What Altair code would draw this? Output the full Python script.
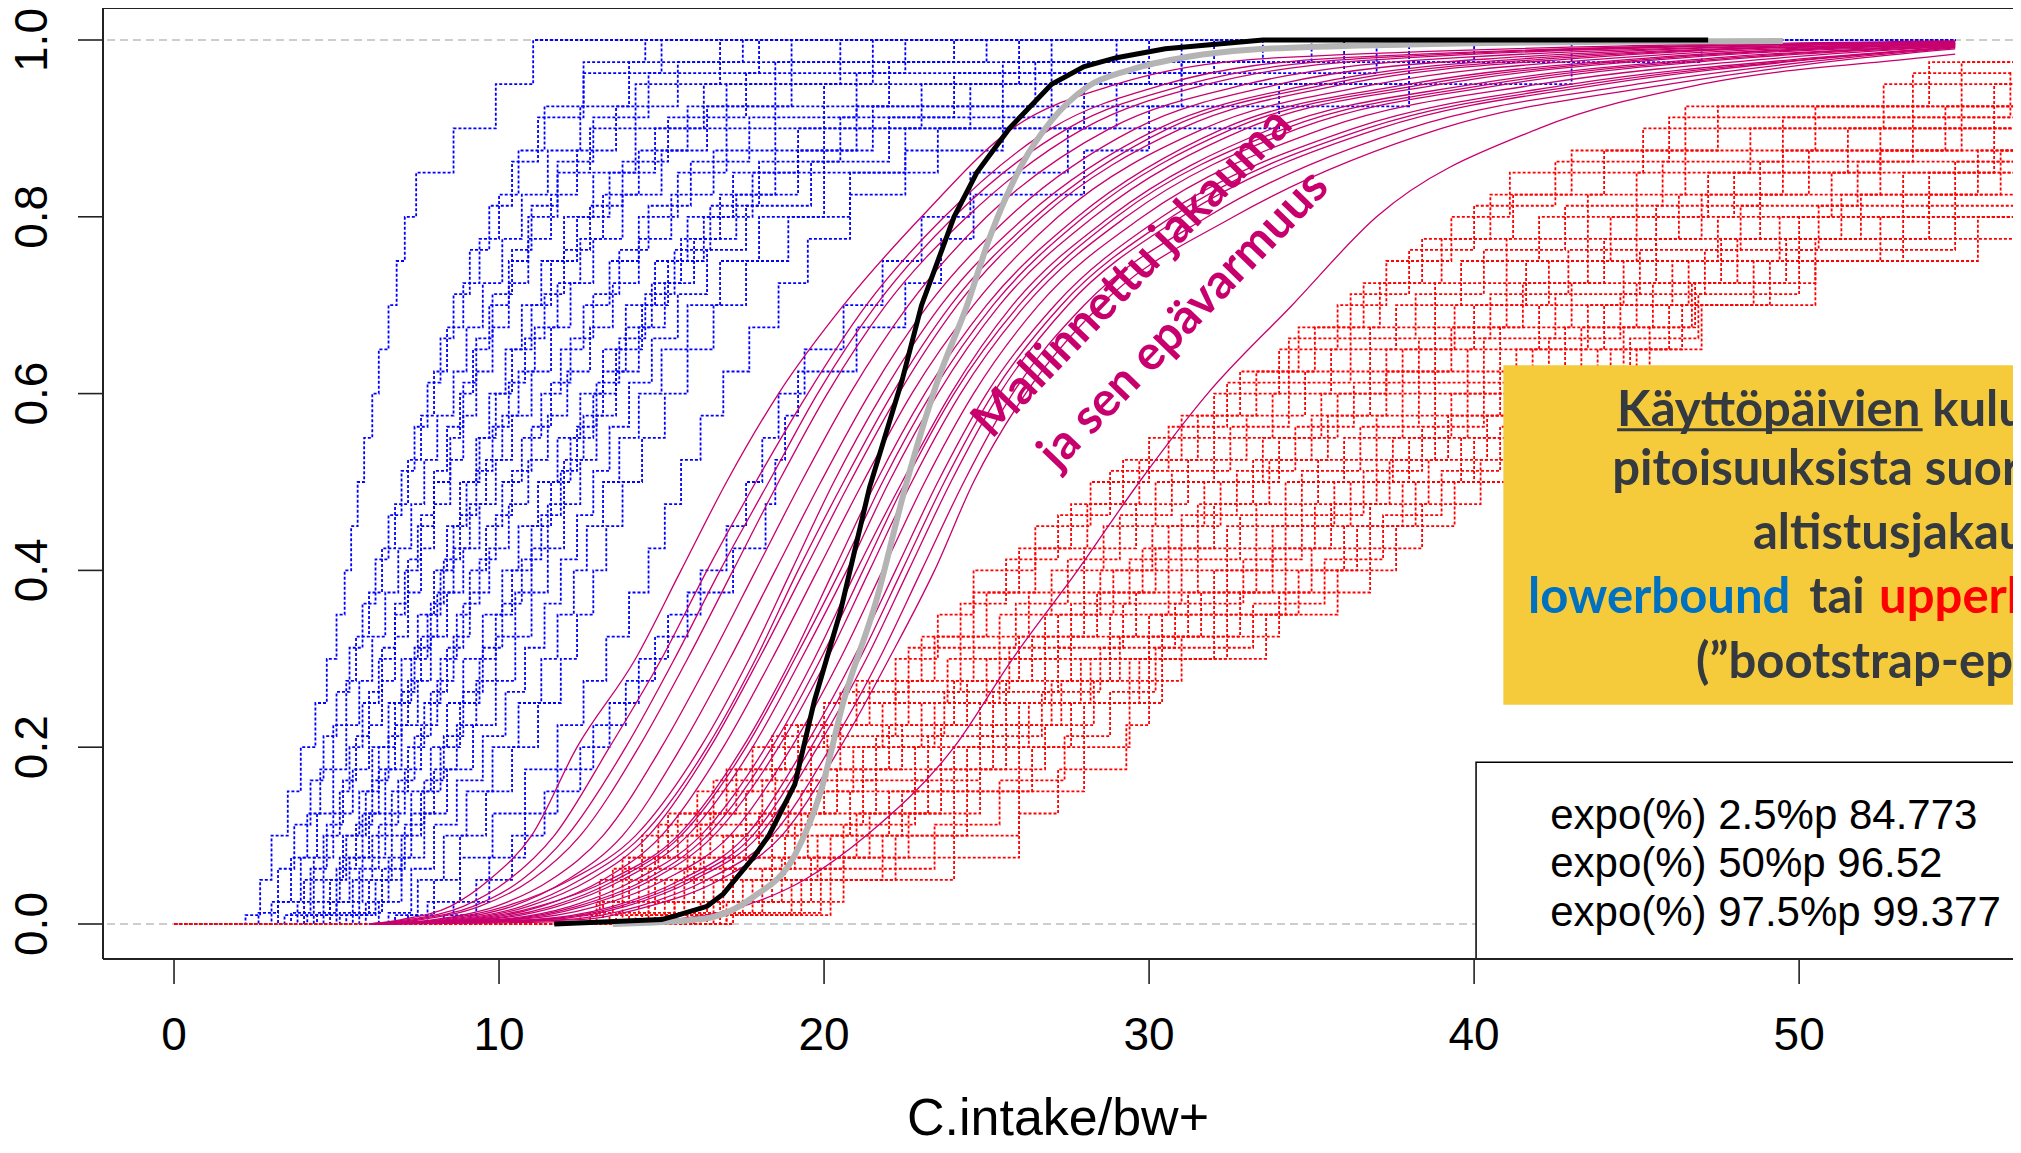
import altair as alt
import pandas as pd

# ------------------------------------------------------------------
# Values
# ------------------------------------------------------------------
x_ticks = [0, 10, 20, 30, 40, 50]
y_ticks = [0.0, 0.2, 0.4, 0.6, 0.8, 1.0]
ref_levels = [0.0, 1.0]
x_title = "C.intake/bw+"

# cumulative levels of the bootstrap step curves (three interleaved sets)
step_levels_a = [0.01, 0.05, 0.10, 0.15, 0.20, 0.25, 0.30, 0.35, 0.40, 0.45, 0.50,
                 0.55, 0.60, 0.65, 0.70, 0.75, 0.80, 0.85, 0.90, 0.95, 1.00]
step_levels_b = [0.025, 0.075, 0.125, 0.175, 0.225, 0.275, 0.325, 0.375, 0.425, 0.475, 0.525,
                 0.575, 0.625, 0.675, 0.725, 0.775, 0.825, 0.875, 0.925, 0.975, 1.00]
step_levels_c = [0.0125, 0.0625, 0.1125, 0.1625, 0.2125, 0.2625, 0.3125, 0.3625, 0.4125, 0.4625, 0.5125,
                 0.5625, 0.6125, 0.6625, 0.7125, 0.7625, 0.8125, 0.8625, 0.9125, 0.9625, 1.00]
ecdf_x_start = 0.0
ecdf_x_end = 54.8

# lowerbound bootstrap ECDFs (blue): x at each step level
blue_curves_a = [
    [2.2, 2.65, 3.0, 3.5, 3.9, 4.35, 4.7, 5.0, 5.25, 5.45, 5.65, 5.85, 6.1, 6.3, 6.6, 6.85, 7.1, 7.45, 8.6, 9.9, 11.05],
    [3.4, 4.0, 4.6, 5.1, 5.4, 5.8, 6.3, 6.8, 7.1, 7.5, 8.0, 8.5, 8.8, 9.2, 9.7, 10.3, 10.9, 11.8, 12.8, 14.2, 16.8],
    [4.1, 4.8, 5.3, 5.9, 6.3, 6.8, 7.3, 7.8, 8.2, 8.6, 9.0, 9.4, 9.9, 10.4, 11.0, 11.6, 12.4, 13.4, 14.8, 17.0, 21.5],
    [4.6, 5.5, 6.1, 6.7, 7.2, 7.7, 8.2, 8.7, 9.1, 9.6, 10.1, 10.7, 11.3, 11.9, 12.6, 13.4, 14.3, 15.5, 17.0, 20.0, 26.0],
    [5.5, 6.2, 7.0, 7.6, 8.2, 8.8, 9.4, 9.9, 10.4, 11.0, 11.6, 12.2, 12.9, 13.6, 14.4, 15.2, 16.3, 17.8, 20.0, 24.5, 31.0],
    [7.2, 8.0, 8.8, 9.6, 10.4, 11.2, 11.9, 12.4, 12.9, 13.3, 13.8, 14.4, 15.1, 15.8, 16.6, 17.6, 18.9, 20.8, 23.5, 29.0, 36.0],
    [8.3, 9.3, 10.4, 11.4, 12.5, 13.4, 14.3, 15.2, 16.2, 17.0, 17.6, 18.1, 18.6, 19.4, 20.6, 21.8, 23.0, 24.5, 27.5, 34.0, 43.0],
    [4.0, 4.6, 5.2, 5.7, 6.1, 6.6, 7.0, 7.5, 8.0, 8.4, 8.8, 9.3, 9.7, 10.2, 10.7, 11.3, 12.0, 12.9, 14.2, 16.3, 20.5],
    [5.3, 6.0, 6.7, 7.3, 7.9, 8.4, 8.9, 9.5, 10.1, 10.6, 11.2, 11.8, 12.5, 13.2, 13.9, 14.8, 15.8, 17.2, 19.2, 23.0, 30.0],
    [6.8, 7.5, 8.3, 9.0, 9.8, 10.6, 11.3, 11.8, 12.3, 12.7, 13.2, 13.7, 14.3, 15.0, 15.8, 16.8, 18.0, 20.0, 22.5, 28.0, 38.0],
]
blue_curves_b = [
    [3.0, 3.6, 4.1, 4.5, 4.9, 5.3, 5.6, 6.0, 6.4, 6.8, 7.2, 7.6, 8.0, 8.4, 8.9, 9.4, 10.0, 10.6, 11.4, 12.6, 14.5],
    [3.8, 4.3, 4.9, 5.5, 6.0, 6.4, 6.8, 7.2, 7.6, 8.0, 8.5, 8.9, 9.3, 9.8, 10.3, 10.9, 11.6, 12.4, 13.6, 15.5, 19.0],
    [4.3, 5.1, 5.8, 6.3, 6.8, 7.2, 7.6, 8.1, 8.6, 9.1, 9.6, 10.1, 10.6, 11.1, 11.8, 12.5, 13.2, 14.3, 15.8, 18.5, 24.0],
    [5.0, 5.8, 6.5, 7.1, 7.6, 8.1, 8.6, 9.1, 9.7, 10.3, 10.9, 11.5, 12.1, 12.8, 13.5, 14.3, 15.3, 16.6, 18.5, 22.0, 29.0],
    [6.3, 7.0, 7.7, 8.4, 9.2, 9.9, 10.5, 11.0, 11.5, 12.0, 12.5, 13.0, 13.6, 14.3, 15.1, 16.0, 17.3, 19.2, 21.5, 26.5, 33.5],
    [7.8, 8.8, 9.8, 10.8, 11.8, 12.6, 13.3, 14.0, 14.6, 15.1, 15.6, 16.2, 16.9, 17.7, 18.6, 19.5, 20.8, 22.5, 25.5, 31.0, 40.0],
    [8.6, 9.7, 10.8, 11.8, 12.9, 13.9, 14.8, 15.8, 17.2, 18.2, 18.5, 18.8, 19.2, 21.0, 22.5, 23.6, 24.6, 28.0, 30.0, 38.0, 47.0],
    [3.2, 3.9, 4.4, 4.9, 5.3, 5.7, 6.1, 6.5, 6.9, 7.3, 7.7, 8.1, 8.6, 9.0, 9.5, 10.1, 10.7, 11.5, 12.5, 14.0, 17.5],
    [4.8, 5.4, 6.0, 6.5, 7.0, 7.5, 7.9, 8.4, 8.9, 9.4, 9.9, 10.4, 11.0, 11.6, 12.2, 12.9, 13.8, 15.0, 16.4, 19.0, 25.0],
    [5.9, 6.6, 7.3, 8.0, 8.7, 9.3, 9.9, 10.5, 11.0, 11.5, 12.0, 12.6, 13.2, 13.9, 14.7, 15.6, 16.8, 18.5, 21.0, 25.5, 35.0],
]
blue_curves_c = [
    [3.6, 4.2, 4.7, 5.2, 5.6, 6.0, 6.4, 6.8, 7.2, 7.6, 8.0, 8.4, 8.9, 9.3, 9.8, 10.4, 11.0, 11.8, 12.9, 14.6, 18.0],
    [4.4, 5.0, 5.6, 6.1, 6.6, 7.0, 7.4, 7.9, 8.3, 8.8, 9.3, 9.8, 10.3, 10.8, 11.4, 12.0, 12.8, 13.8, 15.2, 17.6, 22.5],
    [5.1, 5.7, 6.3, 6.9, 7.4, 7.9, 8.4, 8.9, 9.4, 9.9, 10.4, 11.0, 11.6, 12.2, 12.9, 13.7, 14.6, 15.9, 17.7, 21.0, 27.0],
    [5.7, 6.4, 7.1, 7.7, 8.3, 8.9, 9.5, 10.1, 10.7, 11.3, 11.9, 12.4, 13.0, 13.7, 14.5, 15.4, 16.5, 18.0, 20.5, 24.0, 32.0],
    [6.6, 7.3, 8.0, 8.7, 9.5, 10.2, 10.8, 11.4, 11.9, 12.4, 12.9, 13.4, 14.0, 14.7, 15.5, 16.4, 17.6, 19.6, 22.0, 27.0, 37.0],
    [2.6, 3.2, 3.7, 4.2, 4.6, 5.0, 5.4, 5.8, 6.2, 6.6, 7.0, 7.4, 7.8, 8.2, 8.6, 9.1, 9.7, 10.4, 11.2, 12.6, 15.0],
]

# upperbound bootstrap ECDFs (red): x at each step level
red_curves_a = [
    [12.5, 13.1, 14.4, 16.1, 17.8, 20.0, 22.2, 23.5, 24.6, 26.5, 28.2, 30.0, 32.0, 34.0, 35.8, 37.3, 39.3, 41.1, 45.2, 52.6, 57.0],
    [13.4, 14.3, 15.8, 17.6, 19.6, 21.8, 23.8, 25.4, 27.0, 28.6, 30.2, 32.0, 33.8, 35.6, 37.6, 39.6, 42.0, 45.0, 48.5, 56.0, 63.0],
    [14.2, 15.4, 17.2, 19.3, 21.2, 23.4, 25.4, 27.2, 28.9, 30.6, 32.2, 34.0, 35.8, 37.8, 40.0, 42.3, 45.0, 48.0, 52.5, 59.0, 68.0],
    [15.0, 16.6, 18.8, 20.8, 22.8, 24.8, 26.8, 28.8, 30.6, 32.4, 34.2, 36.0, 37.8, 39.8, 42.0, 44.6, 47.5, 51.0, 56.0, 63.0, 72.0],
    [15.8, 17.8, 20.2, 22.4, 24.4, 26.3, 28.2, 30.4, 32.4, 34.2, 36.2, 38.0, 39.8, 41.8, 44.0, 46.6, 50.0, 54.0, 59.0, 66.0, 76.0],
    [16.6, 19.0, 21.8, 24.0, 26.0, 27.6, 29.4, 32.0, 34.2, 36.0, 37.8, 39.6, 41.6, 43.8, 46.0, 48.6, 52.5, 57.0, 62.0, 70.0, 80.0],
    [17.0, 20.2, 24.0, 26.0, 28.0, 29.4, 30.4, 33.6, 35.8, 37.6, 39.4, 41.0, 43.0, 45.0, 47.0, 50.5, 55.5, 60.0, 66.0, 74.0, 85.0],
    [14.0, 15.1, 16.9, 18.9, 20.9, 23.0, 25.0, 26.8, 28.5, 30.1, 31.7, 33.5, 35.3, 37.3, 39.4, 41.6, 44.2, 47.2, 51.5, 58.0, 67.0],
    [15.6, 17.5, 19.8, 22.0, 24.0, 26.0, 27.9, 30.0, 32.0, 33.8, 35.7, 37.5, 39.3, 41.3, 43.5, 46.1, 49.4, 53.2, 58.2, 65.0, 75.0],
    [16.0, 19.3, 22.2, 24.4, 26.4, 28.0, 29.7, 32.4, 34.6, 36.4, 38.2, 40.0, 42.0, 44.2, 46.4, 49.1, 53.2, 57.8, 63.0, 71.0, 81.0],
]
red_curves_b = [
    [13.0, 13.8, 15.2, 17.0, 18.8, 21.0, 23.0, 24.6, 26.0, 27.6, 29.2, 31.0, 32.8, 34.6, 36.6, 38.4, 40.5, 43.0, 46.5, 54.0, 60.0],
    [13.8, 14.8, 16.5, 18.5, 20.5, 22.6, 24.6, 26.3, 28.0, 29.6, 31.2, 33.0, 34.8, 36.8, 38.8, 41.0, 43.5, 46.5, 50.5, 57.5, 66.0],
    [14.6, 16.0, 18.0, 20.0, 22.0, 24.0, 26.0, 28.0, 29.8, 31.5, 33.2, 35.0, 36.8, 38.8, 41.0, 43.5, 46.3, 49.5, 54.5, 61.0, 70.0],
    [15.4, 17.2, 19.5, 21.6, 23.6, 25.6, 27.6, 29.6, 31.5, 33.3, 35.2, 37.0, 38.8, 40.8, 43.0, 45.6, 48.8, 52.5, 57.5, 64.0, 74.0],
    [16.2, 18.4, 21.0, 23.2, 25.2, 27.0, 28.8, 31.2, 33.3, 35.1, 37.0, 38.8, 40.8, 42.8, 45.0, 47.6, 51.3, 55.5, 60.5, 68.0, 78.0],
    [17.0, 19.6, 22.6, 24.8, 26.8, 28.3, 30.0, 32.8, 35.0, 36.8, 38.6, 40.4, 42.4, 44.6, 46.8, 49.6, 54.0, 58.5, 64.0, 72.0, 82.0],
    [16.8, 20.6, 26.0, 27.2, 29.3, 30.0, 31.0, 34.0, 36.8, 38.4, 40.2, 41.6, 43.4, 45.4, 46.7, 50.5, 56.7, 61.5, 68.0, 76.0, 90.0],
    [13.2, 14.0, 15.5, 17.3, 19.2, 21.4, 23.4, 25.0, 26.5, 28.1, 29.7, 31.5, 33.3, 35.1, 37.1, 39.0, 41.2, 44.0, 47.5, 55.0, 61.0],
    [14.8, 16.3, 18.4, 20.4, 22.4, 24.4, 26.4, 28.4, 30.2, 32.0, 33.7, 35.5, 37.3, 39.3, 41.5, 44.0, 47.0, 50.3, 55.0, 62.0, 71.0],
    [16.4, 18.7, 21.4, 23.6, 25.6, 27.3, 29.1, 31.6, 33.8, 35.6, 37.4, 39.2, 41.2, 43.3, 45.5, 48.1, 51.9, 56.2, 61.2, 69.0, 79.0],
]
red_curves_c = [
    [12.8, 13.5, 14.9, 16.6, 18.4, 20.5, 22.6, 24.2, 25.6, 27.2, 28.8, 30.6, 32.4, 34.3, 36.2, 38.0, 40.0, 42.5, 46.0, 53.5, 59.0],
    [13.6, 14.6, 16.2, 18.1, 20.1, 22.2, 24.2, 25.9, 27.5, 29.1, 30.7, 32.5, 34.3, 36.2, 38.2, 40.3, 42.8, 45.8, 49.5, 56.5, 64.0],
    [14.4, 15.7, 17.6, 19.6, 21.6, 23.7, 25.7, 27.6, 29.4, 31.0, 32.7, 34.5, 36.3, 38.3, 40.5, 42.9, 45.6, 48.8, 53.5, 60.0, 69.0],
    [15.2, 16.9, 19.1, 21.2, 23.2, 25.2, 27.2, 29.2, 31.0, 32.8, 34.7, 36.5, 38.3, 40.3, 42.5, 45.1, 48.2, 51.8, 56.8, 63.5, 73.0],
    [16.0, 18.1, 20.6, 22.8, 24.8, 26.7, 28.5, 30.8, 32.9, 34.7, 36.6, 38.4, 40.3, 42.3, 44.5, 47.1, 50.6, 54.8, 59.8, 67.0, 77.0],
    [17.2, 19.9, 23.4, 25.4, 27.4, 28.8, 30.2, 33.2, 35.4, 37.2, 39.0, 40.8, 42.7, 44.8, 46.9, 50.0, 54.8, 59.2, 65.0, 73.0, 83.0],
]

# modelled distributions (magenta): x at each cumulative level
model_levels = [0.005, 0.02, 0.05, 0.1, 0.2, 0.3, 0.4, 0.5, 0.6, 0.7, 0.8, 0.9, 0.95, 0.98]
model_x_start = 6.0
model_x_end = 54.8
model_curves = [
    [7.0, 8.5, 9.7, 11.0, 12.4, 14.2, 15.6, 17.0, 18.6, 20.6, 23.0, 25.8, 29.0, 34.0],
    [7.2, 8.9, 10.3, 11.7, 13.4, 15.0, 16.4, 17.9, 19.5, 21.3, 23.7, 27.0, 30.5, 36.0],
    [7.4, 9.2, 10.7, 12.1, 13.9, 15.4, 16.8, 18.3, 19.8, 21.6, 24.0, 27.5, 31.2, 37.0],
    [7.6, 9.4, 11.0, 12.5, 14.3, 15.8, 17.2, 18.6, 20.1, 21.9, 24.4, 28.0, 31.8, 38.0],
    [8.0, 9.9, 11.6, 13.2, 15.0, 16.5, 17.9, 19.3, 20.8, 22.6, 25.0, 28.8, 33.0, 39.5],
    [8.4, 10.4, 12.1, 13.8, 15.6, 17.1, 18.5, 19.9, 21.4, 23.2, 25.7, 29.6, 34.0, 41.0],
    [8.2, 10.2, 12.2, 14.2, 16.2, 17.7, 19.0, 20.3, 21.8, 23.6, 26.2, 30.3, 35.0, 42.0],
    [8.6, 10.7, 12.5, 14.4, 16.4, 17.9, 19.2, 20.6, 22.1, 23.9, 26.5, 30.6, 35.5, 42.8],
    [8.8, 10.9, 12.8, 14.6, 16.5, 18.0, 19.4, 20.8, 22.3, 24.1, 26.7, 31.0, 36.0, 43.5],
    [9.2, 11.3, 13.2, 15.0, 16.9, 18.4, 19.8, 21.2, 22.7, 24.6, 27.2, 31.7, 37.0, 44.5],
    [9.0, 11.2, 13.4, 15.5, 17.5, 19.0, 20.3, 21.6, 23.1, 25.0, 27.8, 32.3, 38.0, 45.5],
    [9.4, 11.6, 13.6, 15.6, 17.6, 19.1, 20.5, 21.8, 23.3, 25.2, 28.0, 32.6, 38.5, 46.0],
    [9.6, 11.8, 13.8, 15.8, 17.8, 19.3, 20.7, 22.0, 23.5, 25.4, 28.3, 33.0, 39.0, 46.5],
    [9.9, 12.2, 14.2, 16.2, 18.2, 19.7, 21.0, 22.4, 23.9, 25.8, 28.8, 33.8, 40.0, 47.5],
    [10.1, 12.4, 14.5, 16.4, 18.4, 19.9, 21.2, 22.5, 24.0, 26.0, 29.0, 34.2, 40.5, 48.0],
    [10.3, 12.6, 14.7, 16.6, 18.6, 20.1, 21.4, 22.7, 24.2, 26.2, 29.3, 34.6, 41.0, 48.5],
    [10.5, 13.0, 15.1, 17.1, 19.0, 20.5, 21.8, 23.1, 24.6, 26.6, 29.8, 35.4, 42.0, 49.5],
    [11.0, 13.5, 15.6, 17.6, 19.4, 20.9, 22.2, 23.5, 25.0, 27.1, 30.4, 36.3, 43.0, 50.5],
    [11.2, 13.7, 15.8, 17.8, 19.6, 21.1, 22.4, 23.7, 25.2, 27.3, 30.7, 36.7, 43.5, 50.8],
    [11.5, 13.9, 16.0, 18.0, 19.8, 21.3, 22.6, 23.9, 25.4, 27.5, 31.0, 37.1, 44.0, 51.0],
    [12.0, 14.3, 16.4, 18.4, 20.2, 21.7, 23.0, 24.3, 25.8, 28.0, 31.8, 38.0, 45.0, 51.5],
    [12.5, 14.6, 16.8, 18.7, 20.5, 22.0, 23.4, 24.6, 26.2, 28.5, 32.6, 39.0, 46.0, 52.0],
    [15.0, 17.5, 19.4, 21.3, 24.0, 25.8, 27.8, 29.7, 31.8, 34.4, 37.0, 42.0, 47.0, 53.8],
]
model_end_y = [0.999, 0.998, 0.998, 0.998, 0.997, 0.997, 0.996, 0.996, 0.996, 0.995, 0.995, 0.995,
               0.994, 0.994, 0.994, 0.993, 0.993, 0.992, 0.992, 0.992, 0.991, 0.990, 0.984]

# observed distribution (black) and fitted distribution (grey)
observed_x = [11.7, 15.0, 15.5, 16.4, 16.9, 17.8, 18.3, 19.1, 19.7, 20.5, 21.4, 22.4,
              23.0, 24.0, 24.7, 25.7, 27.0, 28.0, 29.0, 30.5, 33.5, 47.2]
observed_y = [0.0, 0.005, 0.01, 0.02, 0.034, 0.074, 0.10, 0.158, 0.252, 0.353, 0.494, 0.615,
              0.70, 0.80, 0.85, 0.90, 0.95, 0.97, 0.98, 0.99, 1.0, 1.0]
fitted_x = [13.5, 16.3, 17.8, 19.1, 19.9, 20.6, 21.6, 22.5, 23.5, 24.4, 25.1, 26.1,
            27.0, 28.1, 29.4, 31.2, 33.1, 38.0, 44.0, 49.5]
fitted_y = [0.0, 0.006, 0.03, 0.078, 0.15, 0.252, 0.365, 0.494, 0.615, 0.70, 0.777, 0.86,
            0.909, 0.947, 0.966, 0.981, 0.989, 0.995, 0.998, 0.999]

legend_lines = ["expo(%) 2.5%p 84.773", "expo(%) 50%p 96.52", "expo(%) 97.5%p 99.377"]

# ------------------------------------------------------------------
# Tables
# ------------------------------------------------------------------
def step_table(curve_sets):
    rows = []
    cid = 0
    for curves, levels in curve_sets:
        for xs in curves:
            pts = [(ecdf_x_start, 0.0)] + list(zip(xs, levels))
            if xs[-1] < ecdf_x_end:
                pts.append((ecdf_x_end, 1.0))
            for k, (x, y) in enumerate(pts):
                rows.append({"curve": cid, "k": k, "x": x, "y": y})
            cid += 1
    return pd.DataFrame(rows)


def model_table():
    rows = []
    for cid, (xs, yend) in enumerate(zip(model_curves, model_end_y)):
        pts = [(model_x_start, 0.0)] + list(zip(xs, model_levels)) + [(model_x_end, yend)]
        for k, (x, y) in enumerate(pts):
            rows.append({"curve": cid, "k": k, "x": x, "y": y})
    return pd.DataFrame(rows)


blue_df = step_table([(blue_curves_a, step_levels_a), (blue_curves_b, step_levels_b),
                      (blue_curves_c, step_levels_c)])
red_df = step_table([(red_curves_a, step_levels_a), (red_curves_b, step_levels_b),
                     (red_curves_c, step_levels_c)])
model_df = model_table()
obs_df = pd.DataFrame({"x": observed_x, "y": observed_y, "k": list(range(len(observed_x)))})
fit_df = pd.DataFrame({"x": fitted_x, "y": fitted_y, "k": list(range(len(fitted_x)))})
ref_df = pd.DataFrame({"y": ref_levels})

# ------------------------------------------------------------------
# Scales and layout
# ------------------------------------------------------------------
W, H = 1910, 951
X_MIN, X_MAX = -2.185, 56.58
Y_MIN, Y_MAX = -0.0396, 1.0362
PXX = W / (X_MAX - X_MIN)   # pixels per x unit
PXY = H / (Y_MAX - Y_MIN)   # pixels per y unit
xscale = alt.Scale(domain=[X_MIN, X_MAX], nice=False, zero=False)
yscale = alt.Scale(domain=[Y_MIN, Y_MAX], nice=False, zero=False)

FONT = "Liberation Sans"
TICK = 25  # px


def X(field="x"):
    return alt.X(f"{field}:Q", scale=xscale, axis=None)


def Y(field="y"):
    return alt.Y(f"{field}:Q", scale=yscale, axis=None)


# ------------------------------------------------------------------
# Axes (R-style box, ticks and labels drawn through the same scales)
# ------------------------------------------------------------------
frame_h = alt.Chart(pd.DataFrame({"x": [X_MIN, X_MIN], "x2": [X_MAX, X_MAX], "y": [Y_MIN, Y_MAX]})).mark_rule(
    color="#222222", strokeWidth=2
).encode(x=X(), x2="x2:Q", y=Y())
frame_v = alt.Chart(pd.DataFrame({"x": [X_MIN], "y": [Y_MIN], "y2": [Y_MAX]})).mark_rule(
    color="#222222", strokeWidth=2
).encode(x=X(), y=Y(), y2="y2:Q")

xt_df = pd.DataFrame({
    "x": x_ticks,
    "y": [Y_MIN] * len(x_ticks),
    "y2": [Y_MIN - TICK / PXY] * len(x_ticks),
    "ly": [Y_MIN - 91 / PXY] * len(x_ticks),
    "lab": [str(v) for v in x_ticks],
})
x_tick_marks = alt.Chart(xt_df).mark_rule(color="#222222", strokeWidth=1.6).encode(
    x=X(), y=Y(), y2="y2:Q")
x_tick_labels = alt.Chart(xt_df).mark_text(
    font=FONT, fontSize=46, color="black", align="center", baseline="alphabetic"
).encode(x=X(), y=Y("ly"), text="lab:N")

yt_df = pd.DataFrame({
    "y": y_ticks,
    "x": [X_MIN] * len(y_ticks),
    "x2": [X_MIN - TICK / PXX] * len(y_ticks),
    "lx": [X_MIN - 56 / PXX] * len(y_ticks),
    "lab": [f"{v:.1f}" for v in y_ticks],
})
y_tick_marks = alt.Chart(yt_df).mark_rule(color="#222222", strokeWidth=1.6).encode(
    x=X(), x2="x2:Q", y=Y())
y_tick_labels = alt.Chart(yt_df).mark_text(
    font=FONT, fontSize=46, color="black", angle=270, align="center", baseline="alphabetic"
).encode(x=X("lx"), y=Y(), text="lab:N")

x_title_mark = alt.Chart(pd.DataFrame({
    "x": [(X_MIN + X_MAX) / 2], "y": [Y_MIN - 176 / PXY], "t": [x_title]
})).mark_text(
    font=FONT, fontSize=52, color="black", align="center", baseline="alphabetic"
).encode(x=X(), y=Y(), text="t:N")

# ------------------------------------------------------------------
# Data layers
# ------------------------------------------------------------------
ref_lines = alt.Chart(ref_df).mark_rule(
    color="#BDBDBD", strokeDash=[8, 5], strokeWidth=1.6
).encode(y=Y())

blue = alt.Chart(blue_df).mark_line(
    interpolate="step-after", color="#0000FF", strokeWidth=1.8, strokeDash=[3, 2], clip=True
).encode(x=X(), y=Y(), detail="curve:N", order="k:Q")

red = alt.Chart(red_df).mark_line(
    interpolate="step-after", color="#FF0000", strokeWidth=1.8, strokeDash=[3, 2], clip=True
).encode(x=X(), y=Y(), detail="curve:N", order="k:Q")

model = alt.Chart(model_df).mark_line(
    interpolate="monotone", color="#C8006E", strokeWidth=1.3, clip=True
).encode(x=X(), y=Y(), detail="curve:N", order="k:Q")

fitted = alt.Chart(fit_df).mark_line(
    interpolate="monotone", color="#B4B4B4", strokeWidth=6, clip=True
).encode(x=X(), y=Y(), order="k:Q")

observed = alt.Chart(obs_df).mark_line(
    interpolate="linear", color="black", strokeWidth=5, clip=True
).encode(x=X(), y=Y(), order="k:Q")

# legend box with quantile text
legend_box = alt.Chart(pd.DataFrame({"x": [40.06], "x2": [62.0], "y": [0.183], "y2": [Y_MIN]})).mark_rect(
    fill="white", stroke="black", strokeWidth=1.5, clip=True
).encode(x=X(), x2="x2:Q", y=Y(), y2="y2:Q")

legend_text = alt.Chart(pd.DataFrame({
    "t": legend_lines, "x": [42.34, 42.34, 42.34], "y": [0.1075, 0.053, -0.0023]
})).mark_text(
    font=FONT, fontSize=42, color="black", align="left", baseline="alphabetic"
).encode(x=X(), y=Y(), text="t:N")

# yellow explanation box
yellow = alt.Chart(pd.DataFrame({"x": [40.9], "x2": [62.0], "y": [0.632], "y2": [0.248]})).mark_rect(
    color="#F5CB3C", clip=True
).encode(x=X(), x2="x2:Q", y=Y(), y2="y2:Q")

DARK = "#343A40"
box_df = pd.DataFrame({
    "t": ["Käyttöpäivien kulutus", "pitoisuuksista suoraan", "altistusjakauma",
          "lowerbound", "tai", "upperbound", "(”bootstrap-epävarmuus”)"],
    "x": [44.4, 44.25, 48.58, 41.66, 50.31, 52.46, 46.83],
    "y": [0.5633, 0.4966, 0.4242, 0.3518, 0.3518, 0.3518, 0.2783],
    "c": [DARK, DARK, DARK, "#0070C0", DARK, "#FF0000", DARK],
})
box_text = alt.Chart(box_df).mark_text(
    font="Lato", fontWeight="bold", fontSize=49, align="left", baseline="alphabetic"
).encode(x=X(), y=Y(), text="t:N", color=alt.Color("c:N", scale=None))

underline = alt.Chart(pd.DataFrame({"x": [44.4], "x2": [53.8], "y": [0.559]})).mark_rule(
    color=DARK, strokeWidth=3
).encode(x=X(), x2="x2:Q", y=Y())

# rotated annotation of the modelled curves
annot = alt.Chart(pd.DataFrame({
    "t": ["Mallinnettu jakauma", "ja sen epävarmuus"],
    "x": [29.5, 31.08], "y": [0.736, 0.683],
})).mark_text(
    font="Lato", fontWeight="bold", fontSize=48, color="#C8006E",
    angle=314, align="center", baseline="middle"
).encode(x=X(), y=Y(), text="t:N")

chart = alt.layer(
    ref_lines, blue, red, model, fitted, observed,
    legend_box, legend_text,
    yellow, box_text, underline,
    annot,
    frame_h, frame_v, x_tick_marks, x_tick_labels, y_tick_marks, y_tick_labels, x_title_mark,
).properties(
    width=W, height=H,
    padding={"left": 95, "top": 0, "right": 0, "bottom": 178},
    autosize=alt.AutoSizeParams(type="none"),
    background="white",
).configure_view(stroke=None)

chart.save("out.html", embed_options={"renderer": "svg", "actions": False})
